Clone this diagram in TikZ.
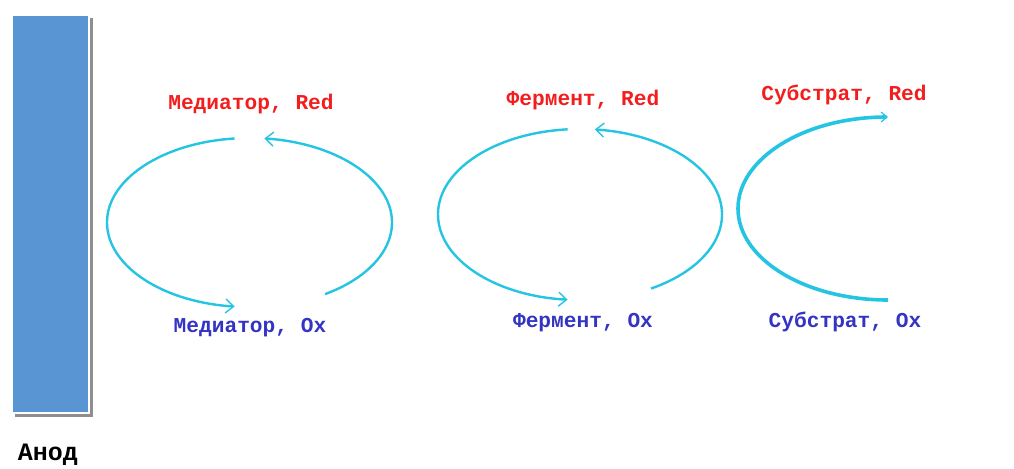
\documentclass[tikz,border=0pt]{standalone}
\usepackage{fontspec}
\setmonofont{Liberation Mono}
\usetikzlibrary{arrows.meta, positioning}

\definecolor{anodeblue}{HTML}{5A95D3}
\definecolor{shadowgray}{HTML}{8E8E8E}
\definecolor{redtxt}{HTML}{F21E1E}
\definecolor{oxtxt}{HTML}{3434C4}
\definecolor{cycline}{HTML}{24C4E2}

\begin{document}
\begin{tikzpicture}[
  x=0.5pt, y=0.5pt,
  every node/.style={font=\ttfamily\bfseries\fontsize{10.6}{12}\selectfont, inner sep=1pt},
  redlbl/.style={text=redtxt},
  oxlbl/.style={text=oxtxt},
  cyc/.style={draw=cycline, line width=#1, -{Straight Barb[length=4pt, width=7pt, line width=0.7pt]}},
  cyc/.default=1.2pt,
]
\useasboundingbox (0,0) rectangle (1014,-468);

% ── Анод ─────────────────────────────────────────────────────────────
\fill[shadowgray] (15,-18) rectangle (93,-417);
\draw[white, fill=anodeblue, line width=0.8pt] (12,-15) rectangle (89,-413);
\node[font=\ttfamily\bfseries\fontsize{12.5}{14}\selectfont] (anod) at (48,-455) {Анод};

% ── Медиатор ─────────────────────────────────────────────────────────
\coordinate (med) at (249.5,-222.5);
\node[redlbl] (medred) at (251,-104) {Медиатор, Red};
\node[oxlbl]  (medox)  at (250,-328) {Медиатор, Ox};
\draw[cyc] (med) ++(96:142.5 and 84.5)
  arc[start angle=96, end angle=264, x radius=142.5, y radius=84.5];
\draw[cyc] (med) ++(-58:142.5 and 84.5)
  arc[start angle=-58, end angle=84, x radius=142.5, y radius=84.5];

% ── Фермент ──────────────────────────────────────────────────────────
\coordinate (fer) at (580,-214.5);
\node[redlbl] (ferred) at (583,-100) {Фермент, Red};
\node[oxlbl]  (ferox)  at (583,-323) {Фермент, Ox};
\draw[cyc] (fer) ++(95:142 and 85.5)
  arc[start angle=95, end angle=265, x radius=142, y radius=85.5];
\draw[cyc] (fer) ++(-60:142 and 85.5)
  arc[start angle=-60, end angle=84, x radius=142, y radius=85.5];

% ── Субстрат ─────────────────────────────────────────────────────────
\coordinate (sub) at (888,-208.5);
\node[redlbl] (subred) at (844,-95) {Субстрат, Red};
\node[oxlbl]  (subox)  at (845,-322) {Субстрат, Ox};
\draw[cyc=1.8pt, -{Straight Barb[length=3pt, width=5pt, line width=0.6pt]}] (sub) ++(270:150 and 91.5)
  arc[start angle=270, end angle=90, x radius=150, y radius=91.5];

\end{tikzpicture}
\end{document}
